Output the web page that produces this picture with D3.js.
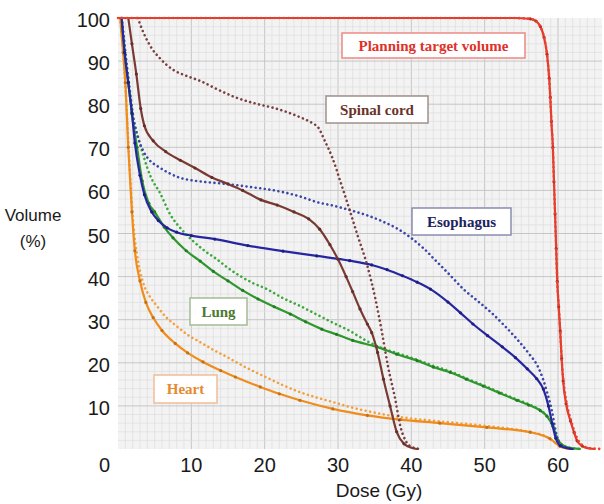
<!DOCTYPE html>
<head>
  <meta charset="utf-8">
  <script src="https://d3js.org/d3.v7.min.js"></script>
  <style>
    body { margin:0; background:#fff; font-family: "Liberation Sans", Arial, Helvetica, sans-serif; }
    .tick-label { font-size: 20px; fill: #1a1a1a; }
    .axis-title { font-size: 17px; fill: #1a1a1a; }
    .tag text { font-family: "Liberation Serif", "Times New Roman", serif; font-weight: bold; font-size: 15px; }
  </style>
</head>
<body>
<script>
// ---- data (dose in Gy, volume in %) ----
var xTicks = [10, 20, 30, 40, 50, 60];
var yTicks = [0, 10, 20, 30, 40, 50, 60, 70, 80, 90, 100];

var ptvSolid = [[0,100],[54,100],[56.2,99.8],[57,99.3],[57.6,98],[58.1,95.5],[58.5,91.6],[58.8,86],[58.95,81.6],[59.1,76],[59.3,70],[59.45,62],[59.6,54.5],[59.75,46.5],[59.9,38.9],[60.1,33],[60.3,27.4],[60.5,21],[60.7,15.8],[61.1,10.5],[61.7,6.5],[62.2,3.8],[62.6,1.9],[63.3,0.7],[64,0.2],[65,0]];
var ptvDotted = [[0,100],[54,100],[56.2,99.8],[57,99.3],[57.6,98],[58.1,95.5],[58.5,91.6],[58.8,86],[58.95,81.6],[59.1,76],[59.3,70],[59.45,62],[59.6,54.5],[59.75,46.5],[59.9,38.9],[60.1,33],[60.3,27.4],[60.5,21],[60.75,15.8],[61.2,10.5],[61.8,6.5],[62.3,3.8],[62.8,1.9],[63.5,0.7],[64.3,0.2],[66,0]];

var cordSolid = [[1.4,100],[1.9,94],[2.5,87],[3.1,79],[3.6,75],[4.8,71.5],[6.5,69],[8.5,67],[10.5,65.2],[12.8,63],[15,61.5],[17,60],[19.5,57.8],[21.7,56.6],[24,55],[26,53.4],[27.5,51],[28.9,47.4],[30,44],[31.1,40],[32,36.5],[33,32.5],[34,29],[34.6,27],[35.4,22.4],[36.2,16.2],[37.1,10],[38,4],[39,1.2],[40,0.3],[40.8,0]];
var cordDotted = [[2.7,100],[3.5,96.5],[4.4,93.5],[5.8,90.5],[7.5,88],[9.3,86.6],[11.2,85.4],[13.5,83.5],[15.7,81.8],[18,80.5],[19.1,80],[21.1,79.2],[23,78.2],[24.8,77],[26.5,75.6],[27.3,74.6],[28.2,71.5],[29.2,67.7],[30.3,62.2],[31.2,57.5],[32.7,49.4],[34,42.5],[35.1,34.8],[36,27],[36.8,19.3],[37.8,11.6],[38.5,5.3],[39.2,2],[39.8,0.7],[41.2,0]];

var esoSolid = [[0.5,100],[0.9,92],[1.4,85],[1.9,78],[2.3,71],[3,63.5],[3.6,59],[4.6,55],[5.5,53],[6.7,51.3],[8,50.3],[10,49.5],[13.2,48.7],[17.7,47.2],[22.5,45.9],[27.1,44.8],[31.6,43.7],[34.6,42.7],[36.7,41.6],[38.8,40.2],[40.8,38.7],[42.6,37.1],[45,34.1],[46.7,31.6],[48.4,29],[50.4,26.3],[52.4,23.7],[54.2,21.2],[55.8,18.6],[57.1,16.3],[58,13.9],[58.7,10],[59.2,6],[59.7,2.5],[60.3,0.8],[61.3,0.2],[62,0]];
var esoDotted = [[0.5,100],[1,92],[1.5,84],[2,77.5],[2.6,73],[3.4,69.3],[4.3,67],[5.5,65.5],[8,63.2],[11.6,62],[13.5,61.7],[18,60.8],[22.5,59.6],[25,58.5],[27.1,57.3],[29.5,56.4],[31.7,55.4],[34,54.2],[36.2,52.7],[38,51.2],[39.8,49.2],[41.7,46.5],[43.5,43.4],[45.3,40.3],[47.1,37.1],[49,34.4],[50.8,31.8],[52.6,28.8],[54.4,25.5],[56,22.2],[57.2,19.3],[58,16],[58.5,13.2],[59.2,8.6],[59.7,4],[60.3,1.2],[61.3,0.2],[62,0]];

var lungSolid = [[0.5,100],[0.9,92],[1.4,85],[1.9,77.7],[2.6,70],[3.3,62.2],[4.2,57],[5,55],[6.3,51.5],[7.5,49],[9.3,46],[11.2,43.6],[13,41.2],[15,39],[17,36.8],[19.1,34.8],[21.3,33],[23.5,31.3],[25.6,29.5],[27.8,27.8],[29.8,26.6],[32,25.2],[35.3,23.7],[38,22],[40.8,20.5],[43,19],[45.3,17.8],[47.5,16.2],[49.8,14.6],[52,13],[54.4,11.3],[56,10.2],[57.6,8.9],[58.5,7.6],[59.3,5.3],[60,2],[61.3,0.4],[63,0]];
var lungDotted = [[0.5,100],[1,92],[1.5,85],[2.1,77],[2.8,72],[3.4,68.4],[4.5,63],[5.7,59.5],[7.1,54.5],[8.9,50.5],[10.2,48.3],[11.8,46],[13.5,44],[15,42],[16.6,40.2],[18.4,38.5],[20.3,37.1],[22.5,35],[24.8,33.2],[27,31.3],[29.3,29.3],[31.6,27.4],[34,25],[36,23.4],[38,22.3],[40.8,20.7],[43,19.3],[45.3,18],[47.5,16.4],[49.8,14.8],[52,13.2],[54.4,11.5],[56,10.4],[57.6,9],[58.5,7.7],[59.3,5.4],[60,2.1],[61.3,0.4],[63,0]];

var heartSolid = [[0.3,100],[0.7,92],[1,85],[1.4,70],[1.9,55],[2.3,46],[3,39],[3.8,34],[4.8,30.5],[6,27.5],[7.8,24.5],[9.5,22.3],[11.6,20.2],[14,18.2],[16,16.7],[19.4,14.4],[22,12.8],[24.8,11.3],[29.3,9.3],[34,7.8],[38.5,6.8],[43.9,6],[50.3,5],[56.2,3.9],[58.9,2.4],[60.3,0.6],[61.5,0]];
var heartDotted = [[0.3,100],[0.8,90],[1.2,78],[1.6,65],[2.1,52],[2.6,45],[3.4,38.7],[4.3,35.5],[5.3,33.2],[6.5,30.7],[8,28.5],[9.5,26.5],[11.2,24.8],[13,23],[14.9,21.3],[16.6,19.7],[18.4,18.1],[20,16.8],[22.5,14.8],[24.8,13.2],[27,12],[29.3,10.9],[31.5,9.8],[34,8.8],[36,8.1],[38.5,7.4],[41,6.9],[43.9,6.4],[47,5.9],[50,5.4],[53,4.8],[56,4],[58.5,2.8],[60,1],[61.5,0.1],[62.5,0]];

var labels = ["Planning target volume", "Spinal cord", "Esophagus", "Lung", "Heart"];

// ---- layout ----
var W = 604, H = 504;
var x = d3.scaleLinear().domain([0, 66]).range([118, 602]);
var y = d3.scaleLinear().domain([0, 100]).range([449, 18]);

var svg = d3.select("body").append("svg")
    .attr("width", W).attr("height", H);

// plot background + grid
svg.append("rect")
    .attr("x", x(0)).attr("y", y(100))
    .attr("width", x(66) - x(0)).attr("height", y(0) - y(100))
    .attr("fill", "#f3f3f3");

var grid = svg.append("g");
grid.selectAll(".vminor").data(d3.range(1, 66)).enter().append("line")
    .attr("x1", d => x(d)).attr("x2", d => x(d))
    .attr("y1", y(0)).attr("y2", y(100))
    .attr("stroke", d => d % 10 === 0 ? "#c6c6c6" : "#dedede")
    .attr("stroke-width", d => d % 10 === 0 ? 1 : 0.7);
grid.selectAll(".hminor").data(d3.range(2, 100, 2)).enter().append("line")
    .attr("y1", d => y(d)).attr("y2", d => y(d))
    .attr("x1", x(0)).attr("x2", x(66))
    .attr("stroke", d => d % 10 === 0 ? "#c6c6c6" : "#dedede")
    .attr("stroke-width", d => d % 10 === 0 ? 1 : 0.7);

// tick labels
svg.selectAll(".xl").data(xTicks).enter().append("text")
    .attr("class", "tick-label")
    .attr("x", d => x(d)).attr("y", 472)
    .attr("text-anchor", "middle")
    .text(d => d);
svg.selectAll(".yl").data(yTicks).enter().append("text")
    .attr("class", "tick-label")
    .attr("x", 110)
    .attr("y", d => d === 0 ? 472 : y(d) + 9)
    .attr("text-anchor", "end")
    .text(d => d);

svg.append("text").attr("class", "axis-title")
    .attr("x", 379).attr("y", 497).attr("text-anchor", "middle")
    .style("font-size", "19px")
    .text("Dose (Gy)");
svg.append("text").attr("class", "axis-title")
    .attr("x", 33).attr("y", 221).attr("text-anchor", "middle")
    .text("Volume");
svg.append("text").attr("class", "axis-title")
    .attr("x", 33).attr("y", 247).attr("text-anchor", "middle")
    .text("(%)");

// curves
var line = d3.line()
    .x(d => x(d[0])).y(d => y(d[1]))
    .curve(d3.curveMonotoneX);

var series = [
  {data: heartDotted, color: "#f3a040", dotted: true},
  {data: heartSolid,  color: "#f08c1c"},
  {data: lungDotted,  color: "#3aa83a", dotted: true},
  {data: lungSolid,   color: "#2e982e"},
  {data: esoDotted,   color: "#3a46a8", dotted: true},
  {data: esoSolid,    color: "#2626a0"},
  {data: cordDotted,  color: "#7a4040", dotted: true},
  {data: cordSolid,   color: "#7a3a34"},
  {data: ptvSolid,    color: "#e8392c"},
  {data: ptvDotted,   color: "#e5442f", dotted: true}
];

series.forEach(s => {
  svg.append("path")
      .datum(s.data)
      .attr("fill", "none")
      .attr("stroke", s.color)
      .attr("stroke-width", s.dotted ? 2.6 : 2.2)
      .attr("stroke-linecap", "round")
      .attr("stroke-dasharray", s.dotted ? "0.01 4.6" : null)
      .attr("d", line);
  if (!s.dotted) {
    svg.append("g").selectAll("circle")
        .data(s.data.filter(d => d[1] > 0.5 && d[1] < 99.9))
        .enter().append("circle")
        .attr("cx", d => x(d[0])).attr("cy", d => y(d[1]))
        .attr("r", 1.6)
        .attr("fill", d3.color(s.color).darker(0.6));
  }
});

// label boxes
var tags = [
  {text: labels[0], x0: 342, y0: 33, w: 183, h: 25, color: "#e0302a", border: "#eb8a84"},
  {text: labels[1], x0: 326, y0: 96, w: 102, h: 27, color: "#6a3228", border: "#a09088"},
  {text: labels[2], x0: 412, y0: 208, w: 99, h: 27, color: "#20225e", border: "#8a8cb0"},
  {text: labels[3], x0: 190, y0: 298, w: 57, h: 27, color: "#4c7a30", border: "#a4bc94"},
  {text: labels[4], x0: 154, y0: 375, w: 63, h: 28, color: "#e48a32", border: "#f2bc94"}
];
var tg = svg.selectAll(".tag").data(tags).enter().append("g").attr("class", "tag");
tg.append("rect")
    .attr("x", d => d.x0).attr("y", d => d.y0)
    .attr("width", d => d.w).attr("height", d => d.h)
    .attr("fill", "#fff").attr("stroke", d => d.border).attr("stroke-width", 1.5);
tg.append("text")
    .attr("x", d => d.x0 + d.w / 2).attr("y", d => d.y0 + d.h / 2 + 5)
    .attr("text-anchor", "middle")
    .attr("fill", d => d.color)
    .text(d => d.text);
</script>
</body>
